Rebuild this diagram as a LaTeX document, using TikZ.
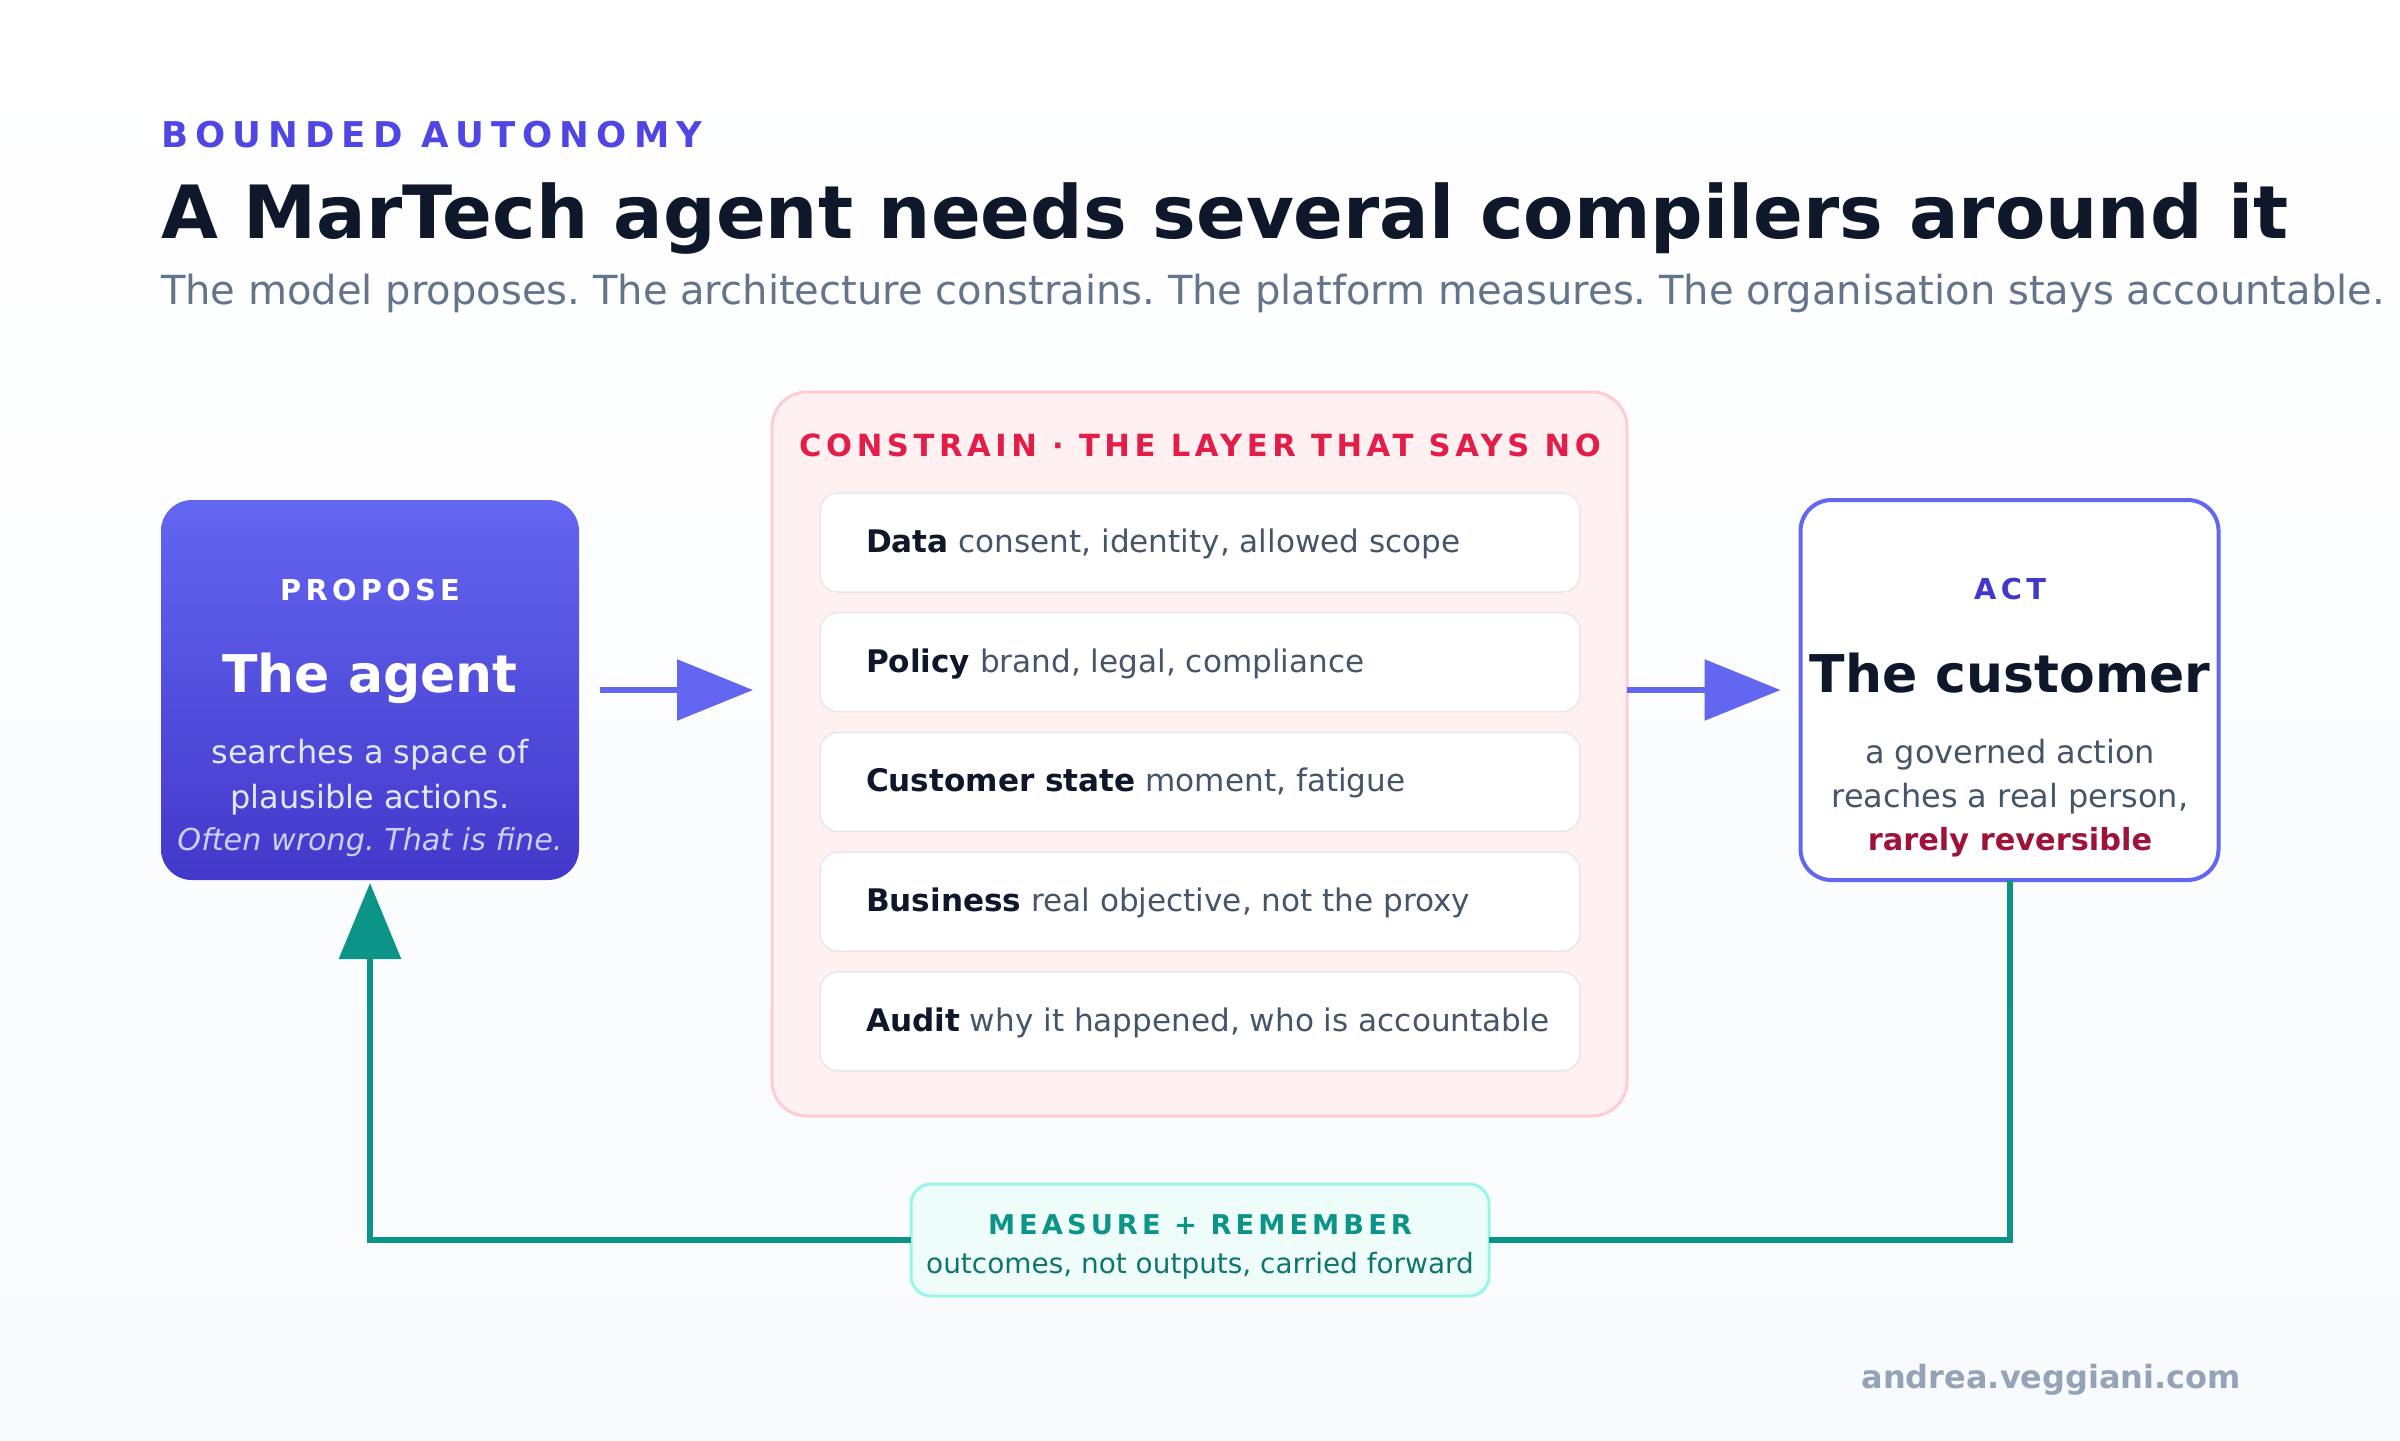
\documentclass[tikz,border=0pt]{standalone}
\usepackage{fontspec}
\setmainfont{DejaVu Sans}
\newfontfamily\tagfont[LetterSpace=15]{DejaVu Sans}
\newfontfamily\kickerfont[LetterSpace=20]{DejaVu Sans}
\usetikzlibrary{arrows.meta,positioning,calc}
\frenchspacing
\definecolor{indigo}{HTML}{6366F1}
\definecolor{indigoDark}{HTML}{4338CA}
\definecolor{kickerBlue}{HTML}{4F46E5}
\definecolor{ink}{HTML}{0F172A}
\definecolor{slate}{HTML}{64748B}
\definecolor{bodyGray}{HTML}{475569}
\definecolor{paleIndigo}{HTML}{E0E7FF}
\definecolor{lavender}{HTML}{C7D2FE}
\definecolor{roseFill}{HTML}{FFF1F2}
\definecolor{roseLine}{HTML}{FECDD3}
\definecolor{roseText}{HTML}{E11D48}
\definecolor{rowLine}{HTML}{E5E7EB}
\definecolor{wine}{HTML}{9F1239}
\definecolor{teal}{HTML}{0D9488}
\definecolor{tealDark}{HTML}{0F766E}
\definecolor{tealFill}{HTML}{EEFDFA}
\definecolor{tealLine}{HTML}{99F6E4}
\definecolor{footGray}{HTML}{94A3B8}
\definecolor{bgBottom}{HTML}{F8FAFC}

\begin{document}
\begin{tikzpicture}[every node/.style={inner sep=0pt, outer sep=0pt},
    card/.style={rounded corners=0.31cm, minimum width=4.18cm, minimum height=3.80cm},
    rowbox/.style={draw=rowLine, line width=0.015cm, fill=white, rounded corners=0.18cm,
        minimum width=7.60cm, minimum height=0.99cm},
    tag/.style={font=\tagfont\bfseries\fontsize{8.2}{10}\selectfont, anchor=base},
    headline/.style={font=\bfseries\fontsize{14.8}{18}\selectfont, anchor=base},
    body/.style={font=\fontsize{9.1}{11}\selectfont, anchor=base},
    flow/.style={draw=indigo, line width=0.06cm, -{Triangle[length=0.76cm, width=0.60cm]}},
    loopline/.style={draw=teal, line width=0.06cm}]
    \useasboundingbox (0,0) rectangle (24,-14.4);
    \shade[top color=white, bottom color=bgBottom] (0,0) rectangle (24,-14.4);

    \node[anchor=base west, text=kickerBlue, font=\kickerfont\bfseries\fontsize{10.1}{12}\selectfont]
        (kicker) at (1.61,-1.47) {BOUNDED AUTONOMY};
    \node[anchor=base west, text=ink, font=\bfseries\fontsize{20.9}{25}\selectfont]
        (title) at (1.61,-2.38) {A MarTech agent needs several compilers around it};
    \node[anchor=base west, text=slate, font=\fontsize{11.4}{14}\selectfont] (subtitle) at (1.61,-3.04)
        {The model proposes. The architecture constrains. The platform measures. The organisation stays accountable.};

    \node[card, top color=indigo, bottom color=indigoDark] (agent) at (3.70,-6.90) {};
    \node[tag, text=white] (proposeTag) at (3.70,-6.00) {PROPOSE};
    \node[headline, text=white] (agentName) at (3.70,-6.92) {The agent};
    \node[body, text=paleIndigo] (agentLine1) at (3.70,-7.63) {searches a space of};
    \node[body, text=paleIndigo] (agentLine2) at (3.70,-8.08) {plausible actions.};
    \node[body, text=lavender, font=\itshape\fontsize{8.6}{10}\selectfont] (agentLine3) at (3.70,-8.50)
        {Often wrong. That is fine.};

    \node[rounded corners=0.35cm, draw=roseLine, line width=0.03cm, fill=roseFill,
        minimum width=8.55cm, minimum height=7.24cm] (constrain) at (11.995,-7.54) {};
    \node[tag, text=roseText, font=\tagfont\bfseries\fontsize{8.7}{10}\selectfont] (constrainTag)
        at (12.00,-4.56) {CONSTRAIN · THE LAYER THAT SAYS NO};
    \foreach \head/\rest [count=\i] in {Data/{consent, identity, allowed scope},
            Policy/{brand, legal, compliance}, Customer state/{moment, fatigue},
            Business/{real objective, not the proxy}, Audit/{why it happened, who is accountable}} {
        \node[rowbox] (row\i) at (12.00,{-5.425-1.197*(\i-1)}) {};
        \node[anchor=base west, text=bodyGray, font=\fontsize{8.85}{10}\selectfont] (rowText\i)
            at ($(row\i.west)+(0.46,-0.10)$) {\textbf{\color{ink}\head} \rest};
    }

    \node[card, draw=indigo, line width=0.04cm, fill=white] (customer) at (20.095,-6.90) {};
    \node[tag, text=indigoDark] (actTag) at (20.10,-5.99) {ACT};
    \node[headline, text=ink] (customerName) at (20.10,-6.92) {The customer};
    \node[body, text=bodyGray] (customerLine1) at (20.10,-7.63) {a governed action};
    \node[body, text=bodyGray] (customerLine2) at (20.10,-8.07) {reaches a real person,};
    \node[body, text=wine, font=\bfseries\fontsize{8.65}{10}\selectfont] (customerLine3) at (20.10,-8.50)
        {rarely reversible};

    \node[rounded corners=0.20cm, draw=tealLine, line width=0.03cm, fill=tealFill,
        minimum width=5.78cm, minimum height=1.12cm] (measure) at (12.00,-12.40) {};
    \node[tag, text=teal, font=\tagfont\bfseries\fontsize{7.75}{9}\selectfont] (measureTag)
        at (12.00,-12.34) {MEASURE + REMEMBER};
    \node[body, text=tealDark, font=\fontsize{7.95}{9}\selectfont] (measureNote) at (12.00,-12.73)
        {outcomes, not outputs, carried forward};

    \draw[flow] ([xshift=0.21cm]agent.east) -- ([xshift=-0.19cm]agent.east -| constrain.west);
    \draw[flow] (agent.east -| constrain.east) -- ([xshift=-0.20cm]customer.west);
    \draw[loopline] (customer.south) |- (measure.east);
    \draw[loopline, -{Triangle[length=0.76cm, width=0.61cm]}] (measure.west) -| ([yshift=-0.03cm]agent.south);

    \node[anchor=base east, text=footGray, font=\bfseries\fontsize{9.1}{11}\selectfont] (footer)
        at (22.41,-13.88) {andrea.veggiani.com};
\end{tikzpicture}
\end{document}
